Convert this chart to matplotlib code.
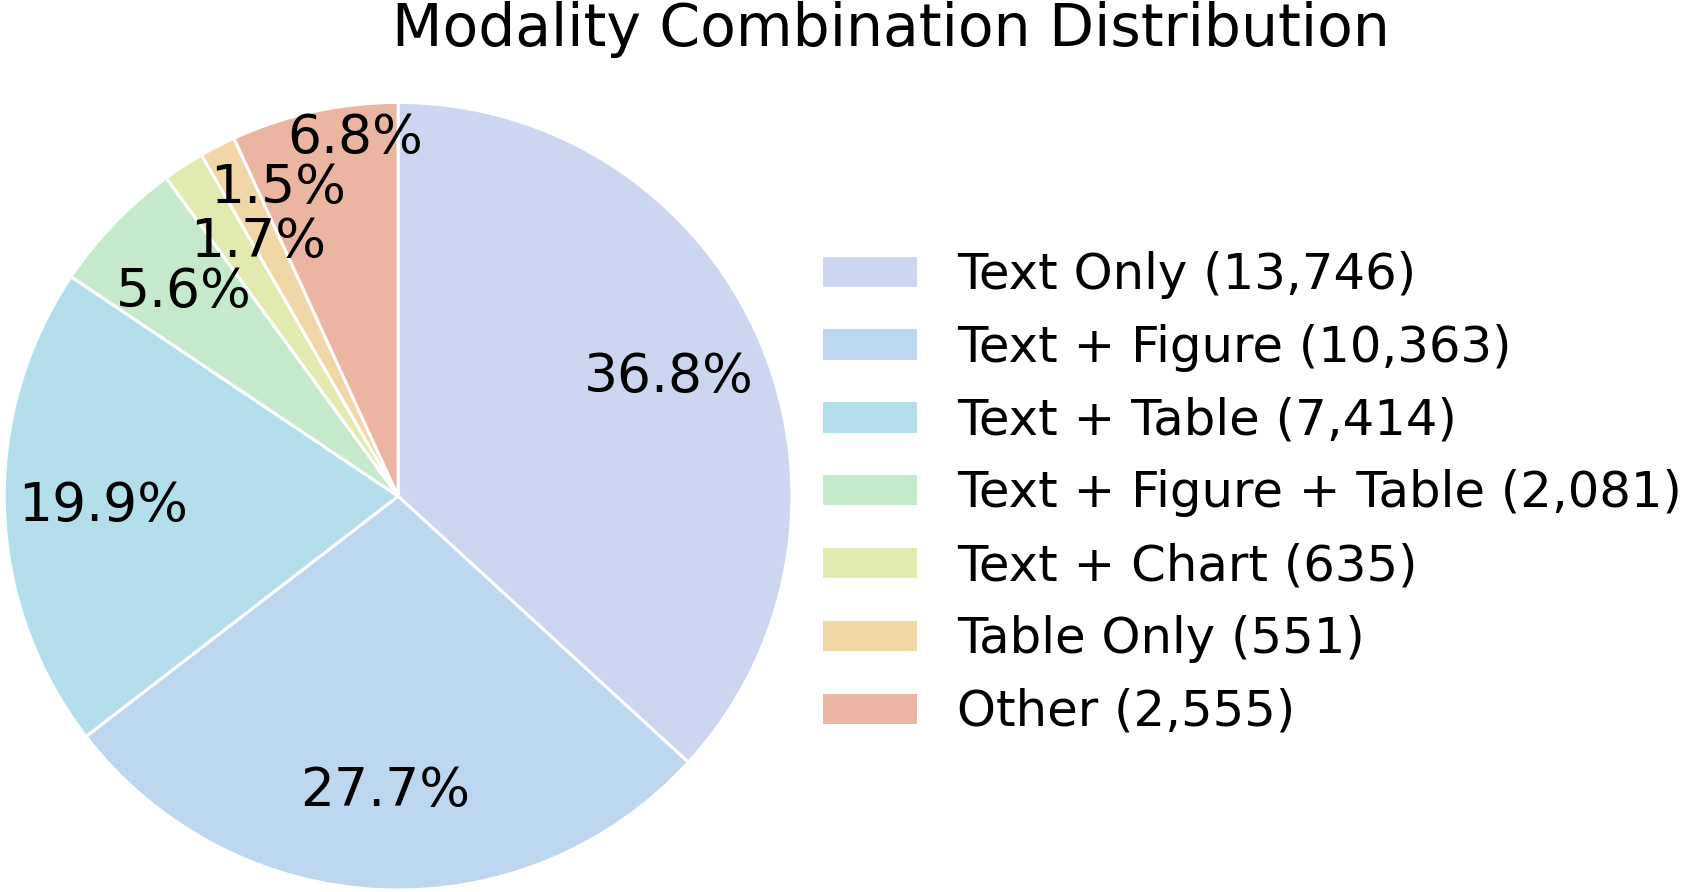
import matplotlib
matplotlib.use('Agg')
import matplotlib.pyplot as plt

labels = ['Text Only', 'Text + Figure', 'Text + Table', 'Text + Figure + Table',
          'Text + Chart', 'Table Only', 'Other']
counts = [13746, 10363, 7414, 2081, 635, 551, 2555]
colors = ['#cdd6f1', '#bdd7f1', '#b3deeb', '#c4eacb', '#e3eab0', '#f1d6a6', '#ebb5a2']
# hand-moved spots for the crowded small-slice labels (None = default place)
label_spots = [None, None, None, (-0.545, 0.518), (-0.354, 0.646),
               (-0.305, 0.782), (-0.109, 0.910)]

fig = plt.figure(figsize=(16.85, 8.92), dpi=100)
ax = fig.add_axes([0.0024, 0.0022, 0.4677, 0.883])

wedges, texts, autotexts = ax.pie(
    counts, colors=colors, startangle=90, counterclock=False,
    autopct='%1.1f%%', pctdistance=0.75,
    wedgeprops=dict(edgecolor='white', linewidth=2.2),
    textprops=dict(fontsize=38.5))
for t, spot in zip(autotexts, label_spots):
    if spot is not None:
        t.set_position(spot)
ax.set_aspect('equal')
ax.set_xlim(-1.0, 1.0)
ax.set_ylim(-1.0, 1.0)

legend_labels = ['%s (%s)' % (l, format(c, ',')) for l, c in zip(labels, counts)]
fig.legend(wedges, legend_labels, loc='center left', bbox_to_anchor=(0.487, 0.447),
           frameon=False, fontsize=35.8, borderpad=0, borderaxespad=0,
           handlelength=1.95, handleheight=0.65, handletextpad=0.8, labelspacing=0.5)

fig.text(0.529, 1 - 46 / 892, 'Modality Combination Distribution', fontsize=42,
         ha='center', va='baseline')

fig.savefig('out.png', dpi=100)
